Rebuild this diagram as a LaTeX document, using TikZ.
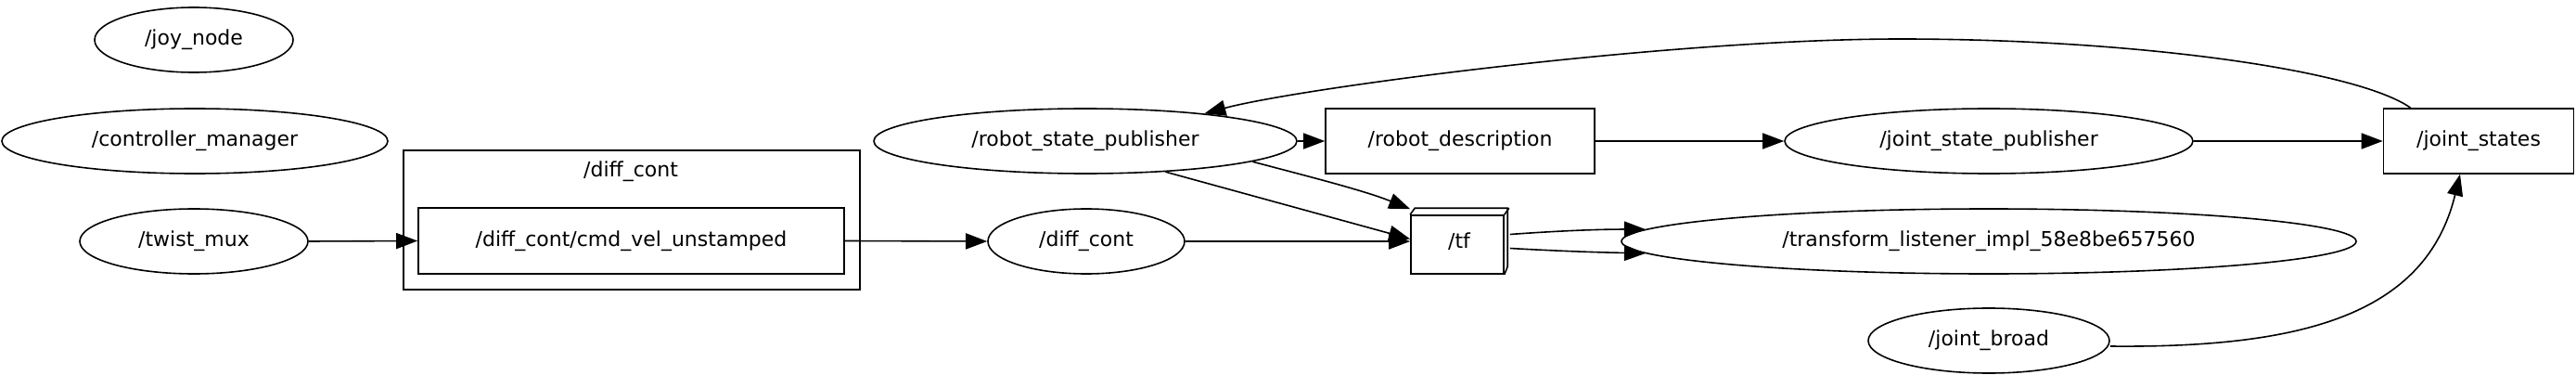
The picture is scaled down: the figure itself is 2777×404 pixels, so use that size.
\documentclass[tikz,border=0pt]{standalone}
\usepackage{fontspec}
\setmainfont{DejaVu Sans}
\usetikzlibrary{shapes.geometric,arrows.meta,calc}
\begin{document}
\begin{tikzpicture}[x=1pt,y=-1pt,
  font=\fontsize{22}{26}\selectfont,
  every path/.style={line width=1.6pt},
  rosnode/.style={ellipse,draw,line width=1.6pt,inner sep=0pt,minimum height=70pt},
  topic/.style={rectangle,draw,line width=1.6pt,inner sep=0pt,minimum height=70pt},
  arr/.style={-{Triangle[length=23pt,width=17pt]},line width=1.6pt}]
\useasboundingbox (0,0) rectangle (2777,404);
% cluster
\draw[line width=1.6pt] (435,162) rectangle (927,312);
\node (clab) at (680,185) {/diff\_cont};
% nodes
\node[rosnode,minimum width=214pt] (joy) at (209,43) {/joy\_node};
\node[rosnode,minimum width=416pt] (cm) at (210,152) {/controller\_manager};
\node[rosnode,minimum width=246pt] (tm) at (209,260) {/twist\_mux};
\node[topic,minimum width=459pt,minimum height=71pt] (cmd) at (680.5,259.5) {/diff\_cont/cmd\_vel\_unstamped};
\node[rosnode,minimum width=456pt] (rsp) at (1170,152) {/robot\_state\_publisher};
\node[rosnode,minimum width=212pt] (dc) at (1171,260) {/diff\_cont};
\node[topic,minimum width=290pt] (rd) at (1574,152) {/robot\_description};
\node[topic,minimum width=100pt,minimum height=63pt] (tf) at (1571,263.5) {};
\node (tftext) at (1573,260) {/tf};
\draw[line join=miter] (tf.north west) -- ++(5,-7) -- ++(100,0) -- ++(0,63) -- (tf.south east);
\draw (tf.north east) -- ++(5,-7);
\node[rosnode,minimum width=440pt] (jsp) at (2144,152) {/joint\_state\_publisher};
\node[rosnode,minimum width=792pt] (tl) at (2144,260) {/transform\_listener\_impl\_58e8be657560};
\node[rosnode,minimum width=260pt] (jb) at (2144,367) {/joint\_broad};
\node[topic,minimum width=205pt] (js) at (2672,152) {/joint\_states};
% edges
\draw[arr] (tm.east) -- (cmd.west);
\draw[arr] (cmd.east) -- (dc.west);
\draw[arr] (dc.east) -- (dc.east -| tf.west);
\draw[arr] (rsp.-21.7) -- ([yshift=6pt]tf.west);
\draw[arr] (rsp.-7) .. controls (1410,190) and (1470,205) .. ([yshift=6pt]tf.north west);
\draw[arr] (rsp.east) -- (rd.west);
\draw[arr] (rd.east) -- (jsp.west);
\draw[arr] (jsp.east) -- (js.west);
\draw[arr] ([xshift=30pt]js.north west) .. controls (2540,75) and (2300,42) .. (2049,42)
   .. controls (1800,42) and (1400,95) .. (rsp.13.8);
\draw[arr] ([yshift=-6pt]jb.east) .. controls (2480,375) and (2615,340) .. ([xshift=-20pt]js.south);
\coordinate (tfo1) at ([xshift=6pt,yshift=11pt]tf.east);
\coordinate (tfo2) at ([xshift=6pt,yshift=-4pt]tf.east);
\draw[arr] (tfo1) .. controls (1690,248) and (1730,247) .. (tl.178);
\draw[arr] (tfo2) .. controls (1690,271) and (1730,272) .. (tl.182);
\end{tikzpicture}
\end{document}
